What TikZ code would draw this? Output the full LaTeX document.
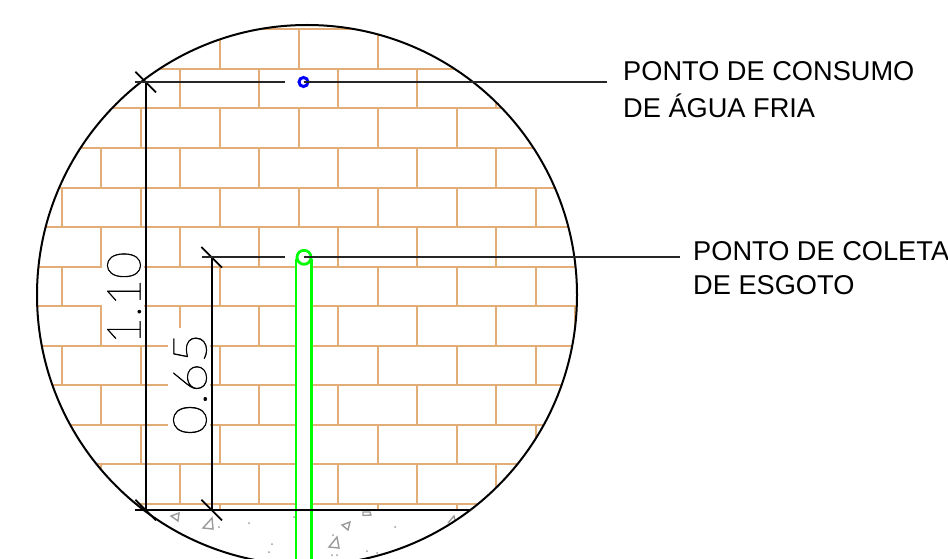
\documentclass[tikz,border=0pt]{standalone}
\usepackage{fontspec}
\setmainfont{Liberation Sans}
\newfontfamily\dimfont[RawFeature={embolden=1.2}]{Lato Hairline}
\definecolor{brick}{HTML}{E3AD78}
\definecolor{concrete}{HTML}{9A9A9A}
\tikzset{
  bricks/.style={draw=brick,line width=2pt},
  blk/.style={draw=black,line width=2pt},
  lead/.style={draw=black!85,line width=1.9pt},
  pipe/.style={draw=green,line width=2.1pt},
  tri/.style={draw=concrete,line width=1.4pt,line join=miter},
  grain/.style={fill=concrete,draw=none},
  label/.style={font=\fontsize{27.2}{37}\selectfont,align=left,anchor=north west,inner sep=0pt},
  dimtext/.style={font=\dimfont\fontsize{47}{47}\selectfont,rotate=90,inner sep=0pt,text=black}
}
\begin{document}
\begin{tikzpicture}[x=1pt,y=-1pt]
\useasboundingbox (0,0) rectangle (948,559);
\clip (0,0) rectangle (948,559);
% masonry
\begin{scope}
  \clip (307,295) circle[radius=270];
  \clip (0,0) rectangle (948,510);
  \foreach \i in {0,...,12}{
    \pgfmathsetmacro{\yy}{29.3+39.55*\i}
    \draw[bricks] (0,\yy) -- (948,\yy);
  }
  \foreach \i in {-1,...,12}{
    \pgfmathsetmacro{\ya}{29.3+39.55*\i}
    \pgfmathsetmacro{\yb}{\ya+39.55}
    \pgfmathtruncatemacro{\rowpar}{mod(\i+2,2)}
    \foreach \k in {0,...,6}{
      \pgfmathsetmacro{\xx}{(\rowpar==0?61.7:101.2)+79*\k}
      \draw[bricks] (\xx,\ya) -- (\xx,\yb);
    }
  }
\end{scope}
% text masks and pipe interior
\fill[white] (101.7,246) rectangle (144,343.5);
\fill[white] (167.7,328) rectangle (210,437);
\fill[white] (296,257) rectangle (311,559);
% concrete
\draw[tri] (171,516) -- (179,513) -- (178,521) -- cycle;
\draw[tri] (203,528) -- (212,518) -- (213,529) -- cycle;
\draw[tri] (363,512) -- (370,512) -- (371,515) -- (363,515.5) -- cycle;
\draw[tri] (342,525) -- (350,522) -- (348,530) -- cycle;
\draw[tri] (329,547) -- (337,537) -- (339,548) -- cycle;
\draw[tri] (448,523) -- (454,516) -- (455,520);
\foreach \p/\q in {249/523,219/527,294/517,272/544,269/552,395/527,333/535,332/555,337/555,367/551,377/553}{
  \fill[grain] (\p,\q) circle[radius=1];
}
% outline
\node[draw=black,line width=2pt,circle,minimum size=540pt,inner sep=0pt] (detail) at (307,295) {};
% pipe
\coordinate (pipeLtop) at (296,259);
\coordinate (pipeLbot) at (296,559);
\coordinate (pipeRtop) at (311.5,259);
\coordinate (pipeRbot) at (311.5,559);
\draw[pipe] (pipeLtop) -- (pipeLbot);
\draw[pipe] (pipeRtop) -- (pipeRbot);
% dimension coordinates
\coordinate (topA) at (145.7,82);
\coordinate (topB) at (211.7,257.3);
\coordinate (baseA) at (145.7,510);
\coordinate (baseB) at (211.7,510);
\coordinate (baseL) at (135,510);
\coordinate (baseR) at (470,510);
\draw[blk] (baseL) -- (baseR);
\draw[blk] (topA) -- (baseA);
\draw[blk] (topB) -- (baseB);
\foreach \c in {topA,topB,baseA,baseB}{
  \draw[blk,line width=1.8pt] ([shift={(-10.3,-10.3)}]\c) -- ([shift={(10.3,10.3)}]\c);
}
% points
\node[draw=blue,line width=3pt,circle,minimum size=9pt,inner sep=0pt] (cold) at (303.5,82) {};
\node[draw=green,line width=2.8pt,circle,minimum size=14pt,inner sep=0pt] (sewer) at (304,257.3) {};
% leaders
\coordinate (coldL) at (135,82);
\coordinate (coldLe) at (285,82);
\coordinate (coldR) at (607,82);
\coordinate (sewerL) at (201.7,257.3);
\coordinate (sewerLe) at (285,257.3);
\coordinate (sewerR) at (680,257.3);
\draw[lead] (coldL) -- (coldLe);
\draw[lead] (cold.center) -- (coldR);
\draw[lead] (sewerL) -- (sewerLe);
\draw[lead] (sewer.center) -- (sewerR);
% labels
\node[label] (coldText) at (623,61) {PONTO DE CONSUMO\\DE ÁGUA FRIA};
\node[label,font=\fontsize{27.2}{34}\selectfont] (sewerText) at (693,241) {PONTO DE COLETA\\DE ESGOTO};
\node[dimtext] (dimA) at (124,298) {1.10};
\node[dimtext] (dimB) at (190,384) {\scalebox{1.1}[1]{0.65}};
\end{tikzpicture}
\end{document}
